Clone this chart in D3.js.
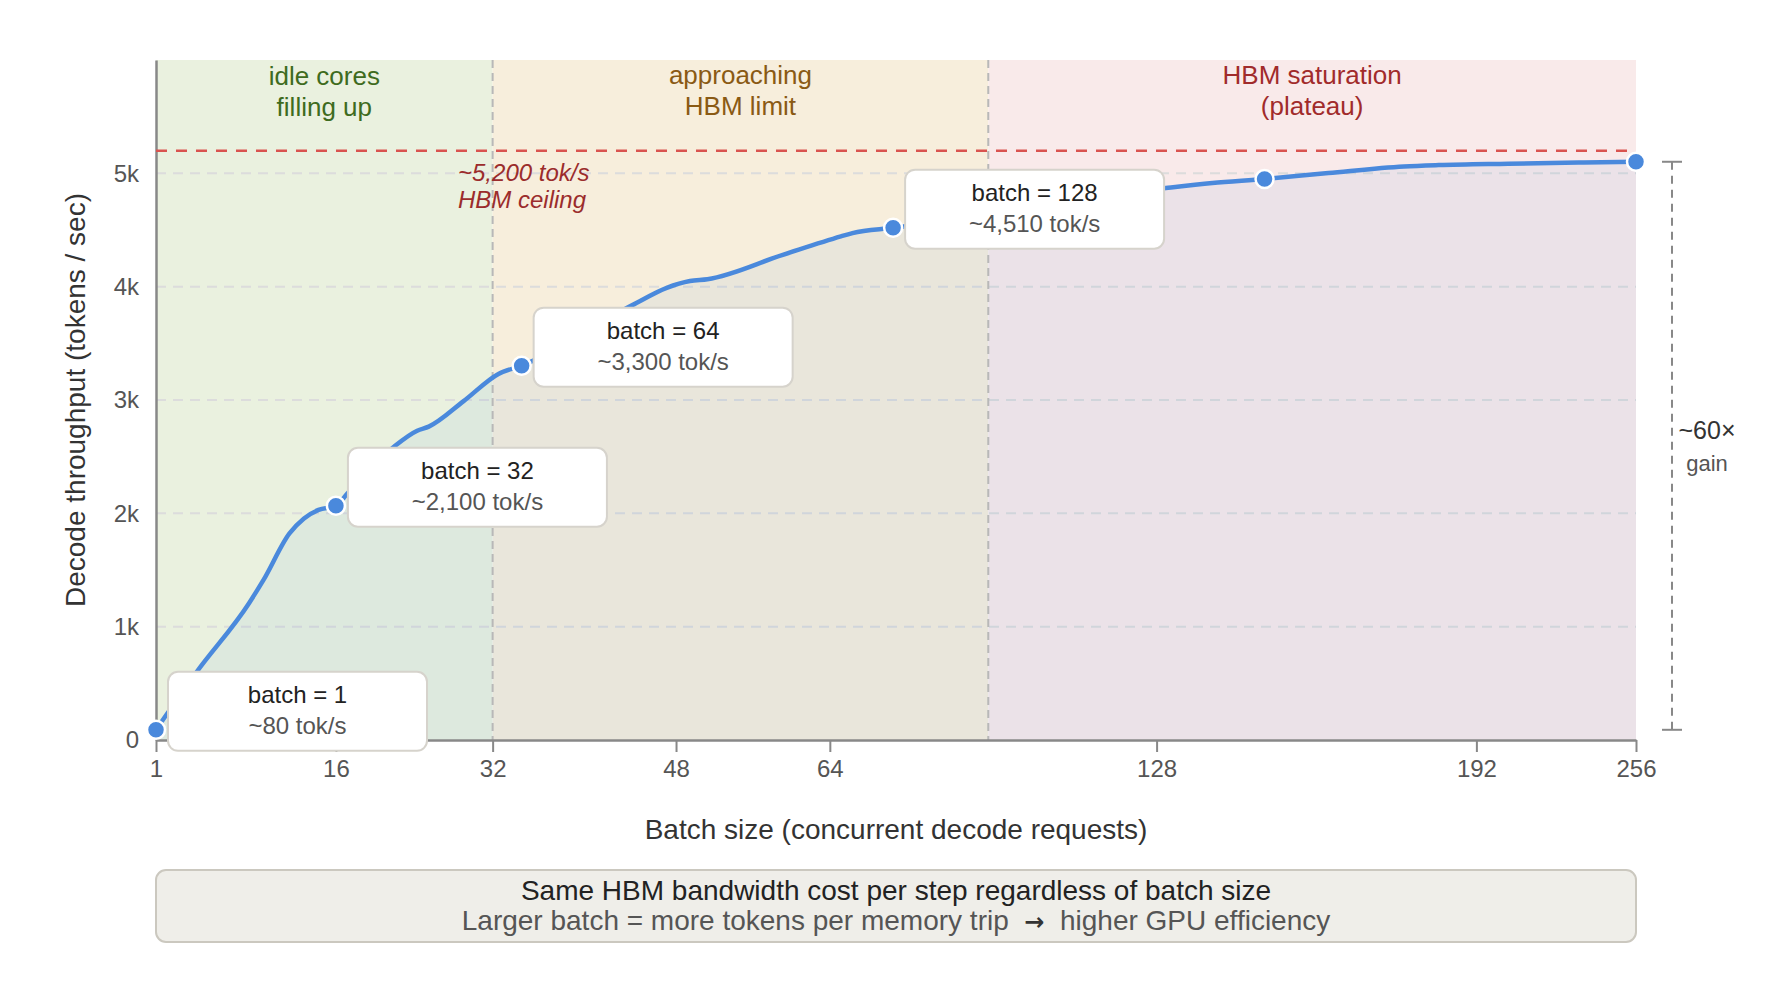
<!DOCTYPE html>
<html>
<head>
<meta charset="utf-8">
<script src="https://cdn.jsdelivr.net/npm/d3@7"></script>
<style>
  body { margin: 0; background: #fff; }
  svg { display: block; font-family: "Liberation Sans", Arial, Helvetica, sans-serif; }
</style>
</head>
<body>
<div class="chart"></div>
<script>
// curve readings: batch size -> decode tokens/sec
var batchSizes = [1, 8, 17, 19.5, 24, 26.5, 29, 32, 34, 42, 46, 48, 54, 60, 64, 83, 89, 93, 96, 109, 119, 121, 128, 175, 183, 192, 203, 216, 222, 234, 247, 256];
var throughput = [90, 600, 1205, 1410, 1823, 1955, 2030, 2067, 2176, 2588, 2729, 2765, 2990, 3230, 3303, 3835, 3990, 4050, 4066, 4281, 4443, 4473, 4520, 4870, 4914, 4950, 5003, 5061, 5073, 5085, 5096, 5102];

var markerBatches = [1, 32, 64, 128, 192, 256];
var calloutBatches = [1, 32, 64, 128];
var calloutTitles = ["batch = 1", "batch = 32", "batch = 64", "batch = 128"];
var calloutValues = ["~80 tok/s", "~2,100 tok/s", "~3,300 tok/s", "~4,510 tok/s"];

var zoneEdges = [1, 59, 144.4, 256];
var zoneNames = [["idle cores", "filling up"], ["approaching", "HBM limit"], ["HBM saturation", "(plateau)"]];
var zoneFills = ["#eaf1df", "#f7eedc", "#f9eaea"];
var zoneInk = ["#3e6b20", "#8a5a14", "#a12b2b"];

// tick labels and where they sit along the batch axis
var xTickLabels = [1, 16, 32, 48, 64, 128, 192, 256];
var xTickAt = [1, 32, 59, 90.6, 117.1, 173.4, 228.5, 256];
var yTicks = [0, 1000, 2000, 3000, 4000, 5000];

var hbmCeiling = 5200;

var svgWidth = 1792;
var svgHeight = 992;
var margin = { top: 60, right: 156, bottom: 252, left: 156 };
var width = svgWidth - margin.left - margin.right;
var height = svgHeight - margin.top - margin.bottom;

var svg = d3.select(".chart")
  .append("svg")
  .attr("width", svgWidth)
  .attr("height", svgHeight);

var chartGroup = svg.append("g")
  .attr("transform", `translate(${margin.left}, ${margin.top})`);

var x = d3.scaleLinear().domain([1, 256]).range([0, width]);
var y = d3.scaleLinear().domain([0, 6000]).range([height, 0]);

var data = batchSizes.map((b, i) => ({ b: b, v: throughput[i] }));
function valueAt(b) { return data.find(d => d.b === b).v; }

// zones
var zones = zoneNames.map((n, i) => ({ lo: zoneEdges[i], hi: zoneEdges[i + 1], name: n, fill: zoneFills[i], ink: zoneInk[i] }));

chartGroup.selectAll(".zone")
  .data(zones)
  .enter()
  .append("rect")
  .attr("x", d => x(d.lo))
  .attr("y", 0)
  .attr("width", d => x(d.hi) - x(d.lo))
  .attr("height", height)
  .attr("fill", d => d.fill);

// grid
chartGroup.selectAll(".grid")
  .data(yTicks.filter(d => d > 0))
  .enter()
  .append("line")
  .attr("x1", 0)
  .attr("x2", width)
  .attr("y1", d => y(d))
  .attr("y2", d => y(d))
  .attr("stroke", "#dcdcdc")
  .attr("stroke-width", 2)
  .attr("stroke-dasharray", "10,7");

// area under the curve
var area = d3.area()
  .x(d => x(d.b))
  .y0(height)
  .y1(d => y(d.v))
  .curve(d3.curveMonotoneX);

chartGroup.append("path")
  .datum(data)
  .attr("d", area)
  .attr("fill", "#4a89dc")
  .attr("fill-opacity", 0.08);

// zone boundaries
chartGroup.selectAll(".edge")
  .data(zoneEdges.slice(1, -1))
  .enter()
  .append("line")
  .attr("x1", d => x(d))
  .attr("x2", d => x(d))
  .attr("y1", 0)
  .attr("y2", height)
  .attr("stroke", "#b8b8b8")
  .attr("stroke-width", 2)
  .attr("stroke-dasharray", "8,5");

// zone labels
zones.forEach(function(z, k) {
  var t = chartGroup.append("text")
    .attr("text-anchor", "middle")
    .attr("fill", z.ink)
    .attr("font-size", "26px");
  z.name.forEach(function(line, i) {
    t.append("tspan")
      .attr("x", (x(z.lo) + x(z.hi)) / 2)
      .attr("y", (k === 0 ? 25 : 23.5) + i * 31)
      .text(line);
  });
});

// axes
var bottomAxis = d3.axisBottom(x)
  .tickValues(xTickAt)
  .tickFormat((d, i) => xTickLabels[i])
  .tickSize(12)
  .tickSizeOuter(0)
  .tickPadding(8);

var leftAxis = d3.axisLeft(y)
  .tickValues(yTicks)
  .tickFormat(d => d === 0 ? "0" : (d / 1000) + "k")
  .tickSize(0)
  .tickSizeOuter(0)
  .tickPadding(17);

var xAxis = chartGroup.append("g")
  .attr("transform", `translate(0, ${height})`)
  .call(bottomAxis);

var yAxis = chartGroup.append("g")
  .call(leftAxis);

[xAxis, yAxis].forEach(function(g) {
  g.select(".domain").attr("stroke", "#888").attr("stroke-width", 2.5);
  g.selectAll(".tick line").attr("stroke", "#888").attr("stroke-width", 2);
  g.selectAll(".tick text")
    .attr("fill", "#555")
    .attr("font-size", "24px")
    .attr("font-family", "Liberation Sans, Arial, Helvetica, sans-serif");
});

// HBM ceiling
chartGroup.append("line")
  .attr("x1", 0)
  .attr("x2", width)
  .attr("y1", y(hbmCeiling))
  .attr("y2", y(hbmCeiling))
  .attr("stroke", "#d9534f")
  .attr("stroke-width", 2.5)
  .attr("stroke-dasharray", "11,9");

var ceilText = chartGroup.append("text")
  .attr("fill", "#9b2c2c")
  .attr("font-style", "italic")
  .attr("font-size", "24px");
ceilText.append("tspan").attr("x", 302).attr("y", y(hbmCeiling) + 30).text("~5,200 tok/s");
ceilText.append("tspan").attr("x", 302).attr("y", y(hbmCeiling) + 57).text("HBM ceiling");

chartGroup.append("path")
  .datum(data)
  .attr("d", d3.line().x(d => x(d.b)).y(d => y(d.v)).curve(d3.curveMonotoneX))
  .attr("fill", "none")
  .attr("stroke", "#4a89dc")
  .attr("stroke-width", 4.5)
  .attr("stroke-linejoin", "round");

// callout boxes
var boxW = 259, boxH = 79;
var callouts = calloutBatches.map((b, i) => ({ b: b, v: valueAt(b), title: calloutTitles[i], value: calloutValues[i] }));

var calloutGroup = chartGroup.selectAll(".callout")
  .data(callouts)
  .enter()
  .append("g")
  .attr("transform", d => `translate(${x(d.b) + 12}, ${y(d.v) - 58})`);

calloutGroup.append("rect")
  .attr("width", boxW)
  .attr("height", boxH)
  .attr("rx", 10)
  .attr("fill", "#fff")
  .attr("stroke", "#d6d3cc")
  .attr("stroke-width", 2);

calloutGroup.append("text")
  .attr("x", boxW / 2)
  .attr("y", 31)
  .attr("text-anchor", "middle")
  .attr("font-size", "24px")
  .attr("fill", "#222")
  .text(d => d.title);

calloutGroup.append("text")
  .attr("x", boxW / 2)
  .attr("y", 62)
  .attr("text-anchor", "middle")
  .attr("font-size", "24px")
  .attr("fill", "#555")
  .text(d => d.value);

// markers
chartGroup.selectAll(".marker")
  .data(markerBatches)
  .enter()
  .append("circle")
  .attr("cx", d => x(d))
  .attr("cy", d => y(valueAt(d)))
  .attr("r", 9)
  .attr("fill", "#4a89dc")
  .attr("stroke", "#fff")
  .attr("stroke-width", 2.5);

// gain bracket
var gx = width + 36;
var gTop = y(valueAt(markerBatches[markerBatches.length - 1]));
var gBot = y(valueAt(markerBatches[0]));
chartGroup.append("line")
  .attr("x1", gx).attr("x2", gx)
  .attr("y1", gTop).attr("y2", gBot)
  .attr("stroke", "#888")
  .attr("stroke-width", 2)
  .attr("stroke-dasharray", "8,6");
[gTop, gBot].forEach(function(yy) {
  chartGroup.append("line")
    .attr("x1", gx - 10).attr("x2", gx + 10)
    .attr("y1", yy).attr("y2", yy)
    .attr("stroke", "#888")
    .attr("stroke-width", 2);
});
chartGroup.append("text")
  .attr("x", gx + 35)
  .attr("y", (gTop + gBot) / 2 - 7)
  .attr("text-anchor", "middle")
  .attr("font-size", "25px")
  .attr("fill", "#333")
  .text("~60\u00d7");
chartGroup.append("text")
  .attr("x", gx + 35)
  .attr("y", (gTop + gBot) / 2 + 25)
  .attr("text-anchor", "middle")
  .attr("font-size", "22px")
  .attr("fill", "#555")
  .text("gain");

// axis titles
chartGroup.append("text")
  .attr("x", width / 2)
  .attr("y", height + 99)
  .attr("text-anchor", "middle")
  .attr("font-size", "28px")
  .attr("fill", "#333")
  .text("Batch size (concurrent decode requests)");

chartGroup.append("text")
  .attr("transform", `translate(${85 - margin.left}, ${height / 2}) rotate(-90)`)
  .attr("text-anchor", "middle")
  .attr("font-size", "28px")
  .attr("fill", "#333")
  .text("Decode throughput (tokens / sec)");

// note box
var note = chartGroup.append("g")
  .attr("transform", `translate(0, ${height + 130})`);
note.append("rect")
  .attr("width", width)
  .attr("height", 72)
  .attr("rx", 10)
  .attr("fill", "#efeee9")
  .attr("stroke", "#cbc8bf")
  .attr("stroke-width", 2);
note.append("text")
  .attr("x", width / 2)
  .attr("y", 29.5)
  .attr("text-anchor", "middle")
  .attr("font-size", "28px")
  .attr("fill", "#222")
  .text("Same HBM bandwidth cost per step regardless of batch size");
var note2 = note.append("text")
  .attr("x", width / 2)
  .attr("y", 60)
  .attr("text-anchor", "middle")
  .attr("font-size", "28px")
  .attr("fill", "#555")
  .style("white-space", "pre");
note2.append("tspan").text("Larger batch = more tokens per memory trip  ");
note2.append("tspan").attr("font-family", "DejaVu Sans").attr("font-weight", "bold").attr("font-size", "24px").attr("fill", "#333").text("\u2192");
note2.append("tspan").text("  higher GPU efficiency");
</script>
</body>
</html>
